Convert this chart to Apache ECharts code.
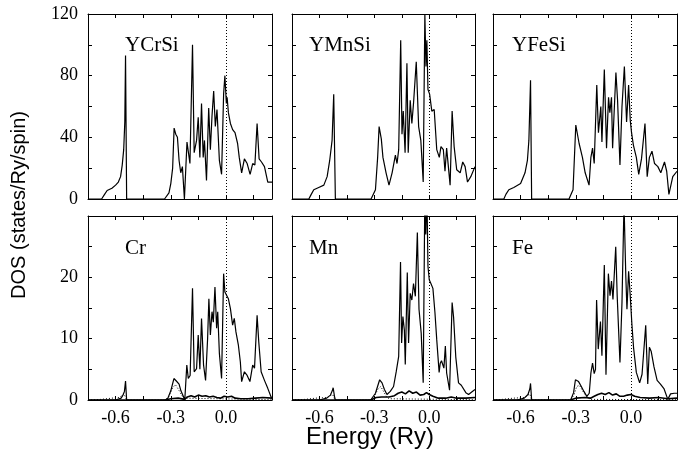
<!DOCTYPE html>
<html>
<head>
<meta charset="utf-8">
<script src="https://cdn.jsdelivr.net/npm/echarts@6/dist/echarts.min.js"></script>
<style>
  html, body { margin: 0; padding: 0; background: #fff; }
  #chart { width: 691px; height: 457px; }
</style>
</head>
<body>
<div id="chart"></div>
<script>
// energy axis (Ry) and tick settings
const xMin = -0.75, xMax = 0.25, xStep = 0.15;
const topMax = 120, topStep = 20;
const botMax = 30, botStep = 5;

const panelNames = ["YCrSi", "YMnSi", "YFeSi", "Cr", "Mn", "Fe"];

// total DOS, [energy, states/Ry/spin]
const ycrsiTotal = [[-0.75,0],[-0.676,0],[-0.66,3],[-0.646,5.5],[-0.62,7],[-0.6,9],[-0.585,11],[-0.573,14.5],[-0.564,22],[-0.556,32],[-0.55,50],[-0.546,93],[-0.54,0],[-0.334,0],[-0.31,4],[-0.3,10],[-0.29,20],[-0.282,46],[-0.273,42],[-0.264,40],[-0.255,25],[-0.246,17],[-0.237,21],[-0.226,0],[-0.212,37],[-0.196,23],[-0.182,100],[-0.173,30],[-0.16,38],[-0.151,53],[-0.142,27],[-0.133,62],[-0.124,27],[-0.117,38],[-0.106,12],[-0.094,59],[-0.085,32],[-0.076,54],[-0.067,70],[-0.058,47],[-0.049,58],[-0.036,25],[-0.024,16],[-0.013,68],[-0.006,80],[0.002,62],[0.006,66],[0.013,56],[0.024,49],[0.036,45],[0.049,43],[0.063,36],[0.072,27],[0.085,17],[0.1,26],[0.115,23],[0.131,16],[0.145,23],[0.157,22],[0.169,49],[0.18,26],[0.193,24],[0.209,21],[0.227,11],[0.25,11]];
const ymnsiTotal = [[-0.75,0],[-0.658,0],[-0.645,3],[-0.631,6],[-0.604,7.5],[-0.576,9],[-0.558,14.5],[-0.544,25],[-0.531,38],[-0.522,68],[-0.513,0],[-0.318,0],[-0.294,6],[-0.282,27],[-0.274,47],[-0.262,39],[-0.253,27],[-0.236,17],[-0.22,9],[-0.203,17],[-0.185,28.5],[-0.176,23],[-0.167,32],[-0.156,103],[-0.149,42],[-0.142,57],[-0.132,30],[-0.122,88],[-0.115,30],[-0.104,64],[-0.095,49],[-0.086,62],[-0.071,89],[-0.058,47],[-0.046,38],[-0.033,11],[-0.024,120],[-0.018,86],[-0.013,103],[-0.007,71],[0.002,68],[0.014,57],[0.027,58],[0.041,32],[0.055,27],[0.064,34],[0.077,32],[0.086,18],[0.095,33],[0.114,9],[0.125,57],[0.136,34],[0.15,19],[0.169,17],[0.183,24],[0.196,21],[0.209,11],[0.227,14.5],[0.25,21]];
const yfesiTotal = [[-0.75,0],[-0.691,0],[-0.68,3],[-0.664,6],[-0.637,7.5],[-0.6,10],[-0.576,17],[-0.563,25],[-0.555,38],[-0.546,77],[-0.54,0],[-0.337,0],[-0.315,6],[-0.3,48],[-0.282,36],[-0.264,27],[-0.249,17],[-0.228,9],[-0.218,27],[-0.209,33],[-0.2,23],[-0.191,23],[-0.186,74],[-0.177,43],[-0.164,60],[-0.158,37],[-0.145,84],[-0.133,33],[-0.122,66],[-0.115,56],[-0.106,66],[-0.1,33],[-0.091,58],[-0.082,82],[-0.073,64],[-0.06,22],[-0.049,60],[-0.036,86],[-0.024,50],[-0.013,74],[-0.004,51],[0.003,43],[0.013,35],[0.029,27],[0.042,16],[0.057,26],[0.076,49],[0.088,14.5],[0.1,27],[0.114,31],[0.128,23],[0.146,21],[0.162,17],[0.182,24],[0.194,18],[0.206,3],[0.227,14.5],[0.25,18]];

// partial DOS: main d curve, low thick curve, dotted curve
const crD = [[-0.75,0],[-0.6,0],[-0.57,0.3],[-0.56,0.8],[-0.552,1.4],[-0.546,3.1],[-0.54,0],[-0.33,0],[-0.316,0.3],[-0.3,1.5],[-0.283,3.5],[-0.27,3.1],[-0.255,2.6],[-0.245,1.5],[-0.235,0.8],[-0.224,0],[-0.213,5.7],[-0.205,3.5],[-0.195,4],[-0.182,18.2],[-0.173,4.6],[-0.16,5.1],[-0.151,10.6],[-0.142,5],[-0.133,13.3],[-0.122,5.7],[-0.111,3.2],[-0.1,10],[-0.093,16.5],[-0.085,10.6],[-0.076,14.4],[-0.069,12.7],[-0.06,18.4],[-0.051,11.7],[-0.045,14.4],[-0.036,7.6],[-0.024,3.5],[-0.013,20.6],[-0.006,17.6],[0.002,17.9],[0.013,16.5],[0.024,14.9],[0.036,12.2],[0.045,13.3],[0.054,11.1],[0.067,9],[0.078,6.2],[0.085,3],[0.1,4.6],[0.115,4],[0.13,3],[0.145,5.7],[0.155,5.2],[0.169,13.8],[0.178,9.5],[0.191,4.6],[0.209,3.2],[0.227,1.9],[0.245,0.5],[0.25,0.4]];
const mnD = [[-0.75,0],[-0.6,0],[-0.56,0.3],[-0.54,0.8],[-0.53,1.5],[-0.525,2],[-0.518,0.6],[-0.513,0],[-0.32,0],[-0.294,1.1],[-0.271,3.3],[-0.258,2.8],[-0.245,1.7],[-0.231,0.9],[-0.213,1.4],[-0.195,2.2],[-0.18,4.7],[-0.167,7.1],[-0.157,22.5],[-0.151,9.3],[-0.144,13.6],[-0.136,11.4],[-0.131,5.8],[-0.12,20.8],[-0.113,9.3],[-0.104,17.4],[-0.095,16.3],[-0.086,19],[-0.076,16.9],[-0.065,27.3],[-0.056,14.8],[-0.044,10.9],[-0.033,2.8],[-0.024,34],[-0.019,27],[-0.013,34],[-0.007,21.8],[0,19.6],[0.009,19],[0.02,18.2],[0.031,14.3],[0.041,9.8],[0.054,4.5],[0.06,6],[0.067,6.4],[0.08,5.2],[0.088,8.8],[0.095,4.4],[0.111,1.6],[0.125,15.9],[0.133,13.5],[0.145,7],[0.16,2.8],[0.175,2.4],[0.2,1.2],[0.215,0.9],[0.232,1.3],[0.25,1.7]];
const feD = [[-0.75,0],[-0.62,0],[-0.58,0.3],[-0.56,0.9],[-0.55,1.8],[-0.546,2.7],[-0.54,0],[-0.328,0],[-0.312,1.2],[-0.302,3.3],[-0.285,3],[-0.27,2.2],[-0.256,1.4],[-0.24,0.6],[-0.227,1.1],[-0.218,4.4],[-0.209,6],[-0.2,4.3],[-0.193,5],[-0.187,16.3],[-0.178,8.3],[-0.166,12.8],[-0.158,7.2],[-0.145,22],[-0.136,4.1],[-0.123,20.6],[-0.114,17],[-0.106,19.4],[-0.098,16.4],[-0.083,25],[-0.075,16.9],[-0.06,6.1],[-0.049,15.9],[-0.038,32],[-0.028,20],[-0.022,14.8],[-0.013,21],[-0.005,17.4],[0.005,12.3],[0.014,8.5],[0.029,4.5],[0.047,2.8],[0.06,4.2],[0.08,12.2],[0.091,2.6],[0.1,8.6],[0.11,7.9],[0.125,5.4],[0.142,3.2],[0.16,2.6],[0.18,1.8],[0.2,0.1],[0.215,1],[0.235,1.1],[0.25,1.1]];

const crLow = [[-0.75,0],[-0.33,0],[-0.3,0.2],[-0.26,0.3],[-0.225,0.1],[-0.21,0.5],[-0.19,0.7],[-0.17,0.5],[-0.15,0.8],[-0.13,0.6],[-0.11,0.7],[-0.09,0.5],[-0.07,0.6],[-0.05,0.4],[-0.03,0.3],[-0.01,0.6],[0.01,0.5],[0.03,0.6],[0.05,0.3],[0.08,0.2],[0.12,0.2],[0.16,0.3],[0.2,0.4],[0.25,0.3]];
const mnLow = [[-0.75,0],[-0.32,0],[-0.29,0.4],[-0.26,0.5],[-0.22,0.5],[-0.19,0.7],[-0.17,1.1],[-0.15,1.3],[-0.13,1],[-0.11,1.5],[-0.09,1.1],[-0.07,1.3],[-0.05,0.8],[-0.03,0.9],[-0.015,1.2],[0,0.9],[0.02,0.6],[0.05,0.3],[0.09,0.3],[0.12,0.5],[0.15,0.3],[0.2,0.3],[0.25,0.4]];
const feLow = [[-0.75,0],[-0.33,0],[-0.3,0.3],[-0.25,0.4],[-0.22,0.3],[-0.2,0.6],[-0.18,0.9],[-0.16,1.1],[-0.14,0.9],[-0.12,1.2],[-0.1,0.8],[-0.08,1],[-0.06,0.6],[-0.04,0.6],[-0.02,0.8],[0,0.9],[0.02,0.6],[0.05,0.4],[0.1,0.3],[0.15,0.4],[0.2,0.2],[0.25,0.3]];

const crP = [[-0.75,0],[-0.68,0.1],[-0.62,0.3],[-0.58,0.4],[-0.555,1],[-0.545,0.4],[-0.54,0],[-0.33,0],[-0.31,0.6],[-0.29,2],[-0.275,2.5],[-0.26,1.8],[-0.245,1],[-0.23,0.3],[-0.22,0.1],[0.25,0.05]];
const mnP = [[-0.75,0],[-0.68,0.1],[-0.62,0.3],[-0.56,0.4],[-0.528,0.9],[-0.515,0],[-0.32,0],[-0.3,0.6],[-0.28,1.8],[-0.265,2.2],[-0.25,1.4],[-0.235,0.6],[-0.22,0.2],[0.25,0.05]];
const feP = [[-0.75,0],[-0.7,0.1],[-0.64,0.3],[-0.58,0.4],[-0.55,1],[-0.54,0],[-0.33,0],[-0.31,0.8],[-0.295,2.2],[-0.28,2.4],[-0.265,1.6],[-0.25,0.9],[-0.235,0.4],[-0.22,0.1],[0.25,0.05]];

const chart = echarts.init(document.getElementById("chart"));

const lefts = [88, 292, 493];
const widths = [184, 183, 184];
const tops = [14, 216];
const heights = [185, 184];
const titleX = [125, 309, 512];
const titleY = [45, 248];

const serif = "Liberation Serif";
const sans = "Liberation Sans";

const grids = [], xAxes = [], yAxes = [], series = [], graphics = [];

const isMult = (v, s) => Math.abs(v / s - Math.round(v / s)) < 1e-6;

for (let i = 0; i < 6; i++) {
  const row = Math.floor(i / 3), col = i % 3;
  grids.push({ left: lefts[col], top: tops[row], width: widths[col], height: heights[row] });

  const yMax = row === 0 ? topMax : botMax;
  const yStep = row === 0 ? topStep : botStep;

  ["bottom", "top"].forEach((pos) => {
    xAxes.push({
      type: "value", gridIndex: i, position: pos,
      min: xMin, max: xMax, interval: xStep,
      axisLine: { show: true, onZero: false, lineStyle: { color: "#000", width: 1 } },
      axisTick: { show: true, inside: true, length: 4, lineStyle: { color: "#000" } },
      axisLabel: {
        show: pos === "bottom" && row === 1,
        margin: 9, color: "#000", fontFamily: serif, fontSize: 18,
        formatter: (v) => (isMult(v, 0.3) ? v.toFixed(1) : "")
      },
      splitLine: { show: false }
    });
  });
  ["left", "right"].forEach((pos) => {
    yAxes.push({
      type: "value", gridIndex: i, position: pos,
      min: 0, max: yMax, interval: yStep,
      axisLine: { show: true, onZero: false, lineStyle: { color: "#000", width: 1 } },
      axisTick: { show: true, inside: true, length: 4, lineStyle: { color: "#000" } },
      axisLabel: {
        show: pos === "left" && col === 0,
        margin: 10, color: "#000", fontFamily: serif, fontSize: 18,
        formatter: (v) => {
          if (row === 0) return v % 40 === 0 ? String(v) : "";
          return v % 10 === 0 && v < 30 ? String(v) : "";
        }
      },
      splitLine: { show: false }
    });
  });

  graphics.push({
    type: "text", x: titleX[col], y: titleY[row],
    style: { text: panelNames[i], font: "21px " + serif, fill: "#000", textAlign: "left", textVerticalAlign: "middle" }
  });
}

const mainData = [ycrsiTotal, ymnsiTotal, yfesiTotal, crD, mnD, feD];
const lowData = [null, null, null, crLow, mnLow, feLow];
const dotData = [null, null, null, crP, mnP, feP];

for (let i = 0; i < 6; i++) {
  if (dotData[i]) {
    series.push({
      type: "line", xAxisIndex: 2 * i, yAxisIndex: 2 * i, data: dotData[i],
      showSymbol: false, lineStyle: { color: "#000", width: 1, type: [1, 2] }
    });
    series.push({
      type: "line", xAxisIndex: 2 * i, yAxisIndex: 2 * i, data: lowData[i],
      showSymbol: false, lineStyle: { color: "#000", width: 1.6 }
    });
  }
  series.push({
    type: "line", xAxisIndex: 2 * i, yAxisIndex: 2 * i, data: mainData[i],
    showSymbol: false, lineStyle: { color: "#000", width: 1.2 },
    markLine: {
      silent: true, symbol: ["none", "none"], label: { show: false },
      lineStyle: { color: "#000", width: 1, type: [1, 2] },
      data: [{ xAxis: 0 }]
    }
  });
}

graphics.push({
  type: "text", x: 19, y: 205, rotation: Math.PI / 2,
  style: { text: "DOS (states/Ry/spin)", font: "20px " + sans, fill: "#000", textAlign: "center", textVerticalAlign: "middle" }
});
graphics.push({
  type: "text", x: 370, y: 437,
  style: { text: "Energy (Ry)", font: "24px " + sans, fill: "#000", textAlign: "center", textVerticalAlign: "middle" }
});

chart.setOption({
  animation: false,
  backgroundColor: "#fff",
  grid: grids,
  xAxis: xAxes,
  yAxis: yAxes,
  series: series,
  graphic: graphics
});
</script>
</body>
</html>
